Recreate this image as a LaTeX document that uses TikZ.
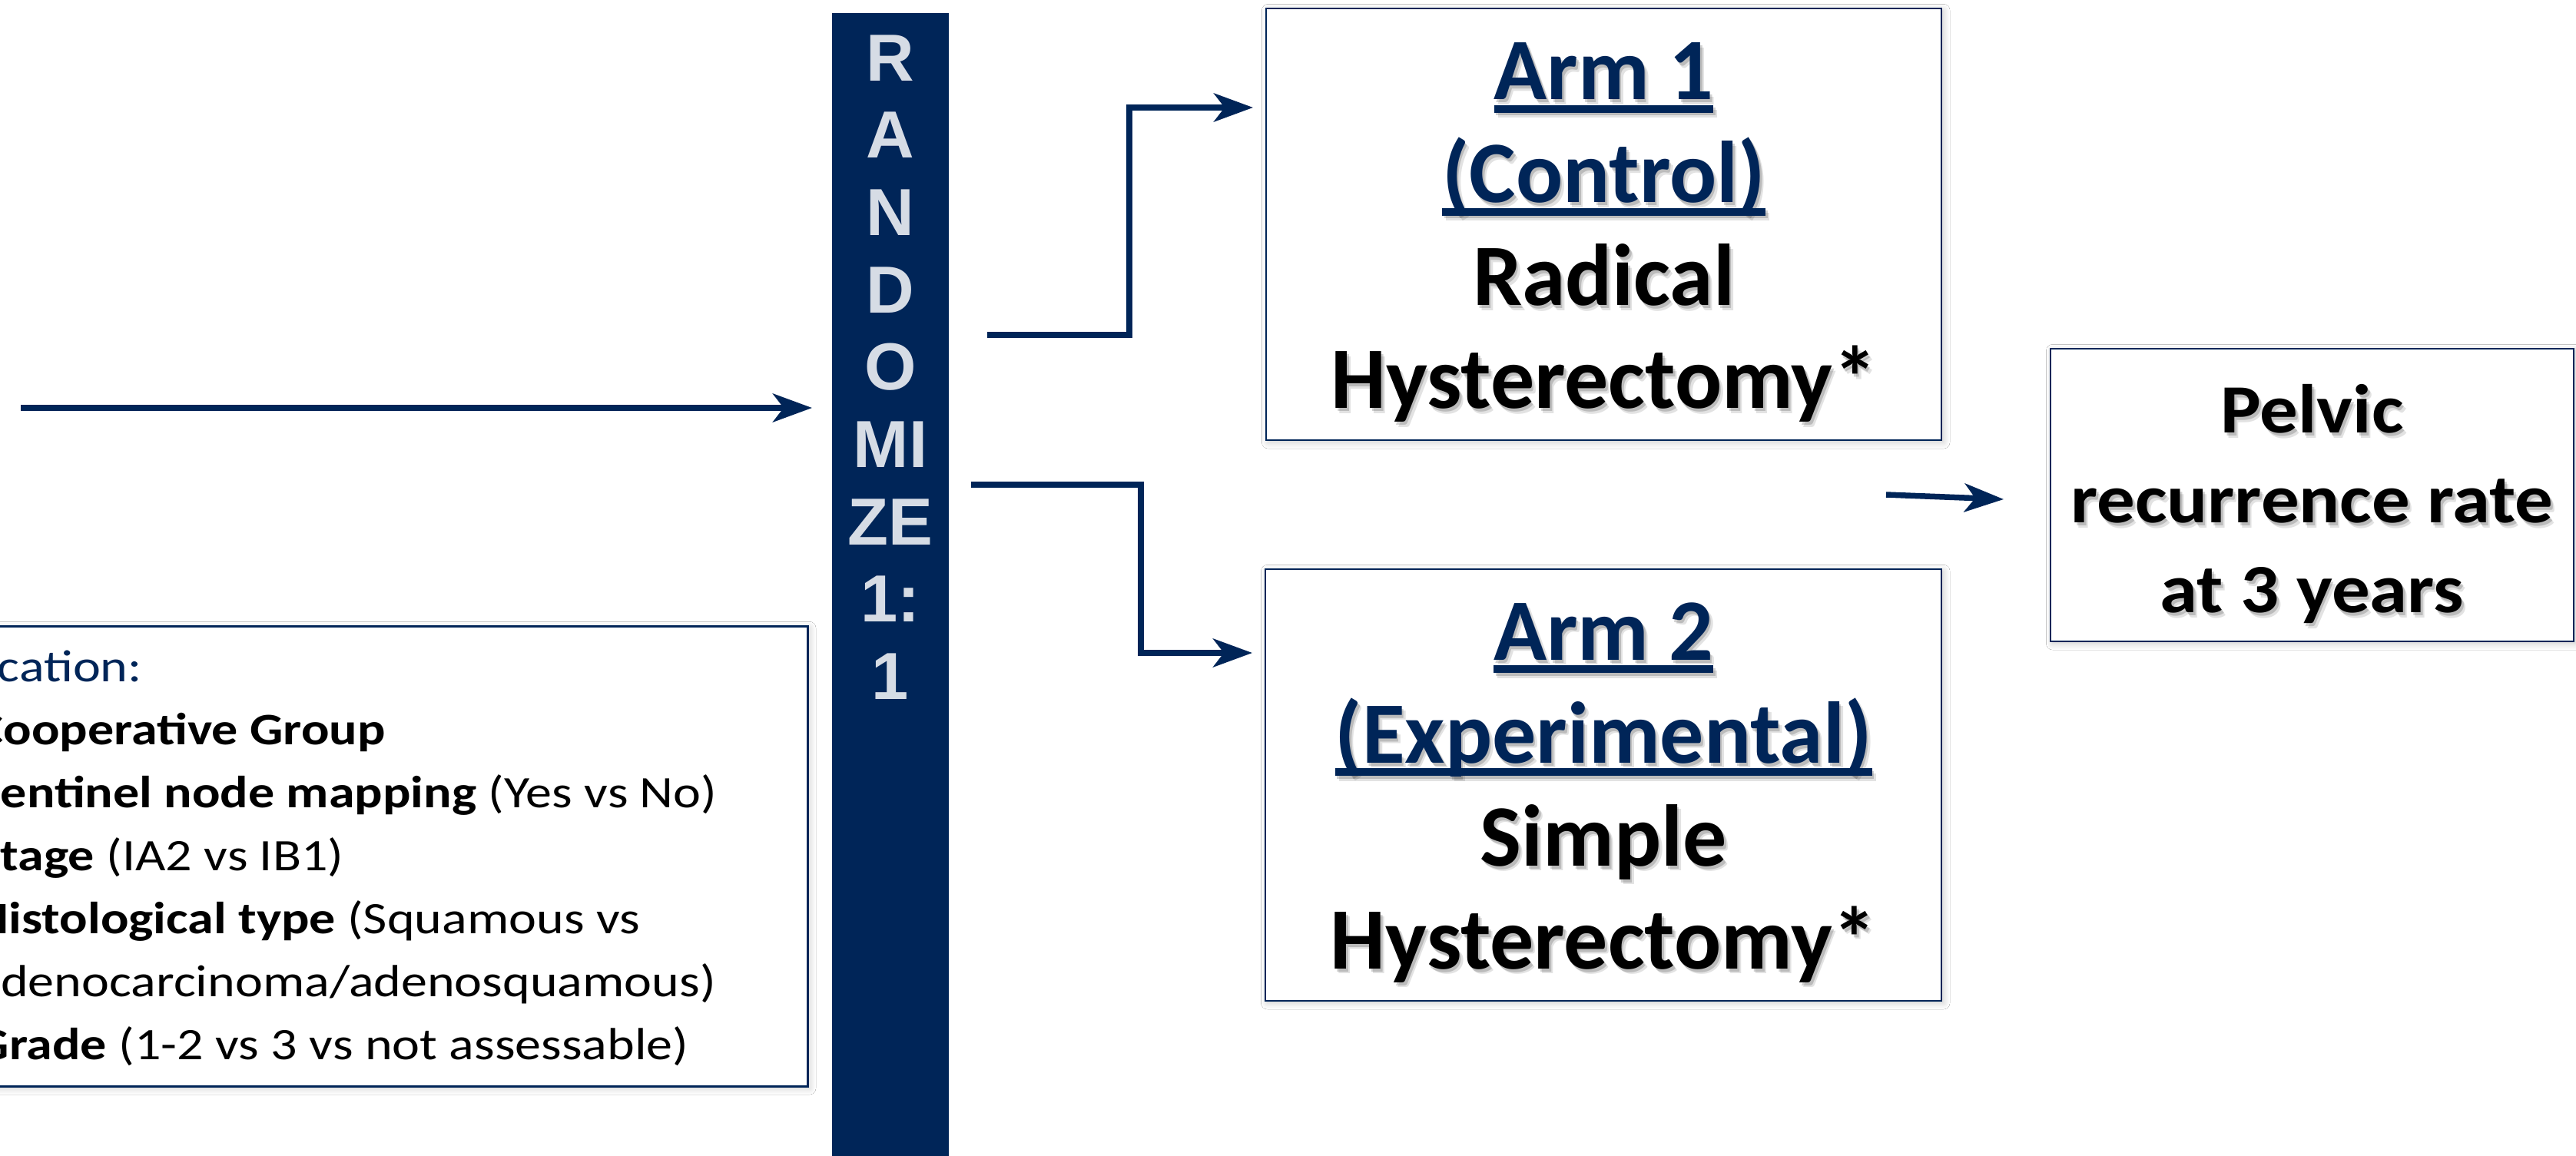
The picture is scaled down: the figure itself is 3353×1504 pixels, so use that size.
\documentclass[tikz,border=0pt]{standalone}
\usepackage{fontspec}
\setmainfont{Carlito}
\newfontfamily\randfont{Liberation Sans}
\newfontfamily\stratfont[FakeStretch=1.16]{Carlito}
\newfontfamily\pelfont[FakeStretch=1.1]{Carlito}
\usetikzlibrary{arrows.meta,shadows.blur}
\definecolor{navy}{RGB}{0,37,88}
\definecolor{randtext}{RGB}{214,220,229}
\newsavebox\ulsave
\newcommand\ulx[1]{\sbox\ulsave{#1}\rlap{\rule[-5.1pt]{\wd\ulsave}{3pt}}\usebox\ulsave}
\newcommand\hdcol{navy}
\newcommand\shnode[4]{%
  \node[#2, text=black!80, opacity=0.14, xshift=1.5pt, yshift=-1.9pt,
        execute at begin node={\renewcommand\hdcol{black!80}}] (#1t) at #3 {#4};
  \node[#2, text=black!80, opacity=0.22, xshift=0.8pt, yshift=-1.1pt,
        execute at begin node={\renewcommand\hdcol{black!80}}] (#1s) at #3 {#4};
  \node[#2] (#1) at #3 {#4};}
\begin{document}
\begin{tikzpicture}[x=0.3pt,y=-0.3pt,
  box/.style={draw=navy, line width=0.75pt, fill=white, inner sep=0pt,
    blur shadow={shadow xshift=0.8pt, shadow yshift=-0.8pt, shadow blur radius=2.5pt, shadow blur steps=8, shadow opacity=22}},
  bar/.style={fill=navy, draw=none, inner sep=0pt},
  arr/.style={draw=navy, line width=2.25pt, -{Stealth[length=15.3pt, width=11.1pt, inset=4.2pt]}},
  armtxt/.style={font=\fontsize{34.2pt}{40.2pt}\selectfont\bfseries, align=center, inner sep=0pt, anchor=north},
  peltxt/.style={font=\pelfont\fontsize{27pt}{35.1pt}\selectfont\bfseries, align=center, inner sep=0pt, anchor=north},
  randtxt/.style={font=\randfont\bfseries\fontsize{26pt}{30.2pt}\selectfont, text=randtext, align=center, inner sep=0pt, anchor=north},
  strattxt/.style={font=\stratfont\fontsize{17.6pt}{24.6pt}\selectfont, align=left, inner sep=0pt, anchor=north west}]
\clip (0,0) rectangle (3353,1504);
\fill[white] (0,0) rectangle (3353,1504);

% boxes
\node[bar, minimum width=45.6pt, minimum height=450.9pt] (bar) at (1159,768.5) {};
\node[box, minimum width=263.7pt, minimum height=168.6pt] (arm1) at (2087.5,292) {};
\node[box, minimum width=264pt, minimum height=168.6pt] (arm2) at (2087,1022) {};
\node[box, minimum width=204.3pt, minimum height=114.3pt] (pelvic) at (3009.5,644.5) {};
\node[box, line width=0.9pt, minimum width=405.3pt, minimum height=179.7pt] (strat) at (375.5,1114.5) {};

% texts
\node[randtxt] (randtext) at (1159,45) {R\\A\\N\\D\\O\\MI\\ZE\\1:\\1};

\shnode{arm1txt}{armtxt}{(2087.5,55)}{{\color{\hdcol}\ulx{Arm 1}}\\{\color{\hdcol}\ulx{(Control)}}\\Radical\\Hysterectomy*}
\shnode{arm2txt}{armtxt}{(2087,784)}{{\color{\hdcol}\ulx{Arm 2}}\\{\color{\hdcol}\ulx{(Experimental)}}\\Simple\\Hysterectomy*}
\shnode{peltxt}{peltxt}{(3009.5,500)}{Pelvic\\recurrence rate\\at 3 years}

\node[strattxt] (strattext) at (-186,846) {\textcolor{navy}{Stratification:}\\
\hspace*{46.2pt}\textbf{Cooperative Group}\\
\hspace*{46.2pt}\textbf{Sentinel node mapping} (Yes vs No)\\
\hspace*{46.2pt}\textbf{Stage} (IA2 vs IB1)\\
\hspace*{46.2pt}\textbf{Histological type} (Squamous vs\\
\hspace*{46.2pt}adenocarcinoma/adenosquamous)\\
\hspace*{46.2pt}\textbf{Grade} (1-2 vs 3 vs not assessable)};

% connectors
\coordinate (inS) at (27,531);
\coordinate (inE) at (1057,531);
\draw[arr] (inS) -- (inE);
\coordinate (a1S) at (1285,436);
\coordinate (a1E) at (1631,140);
\draw[arr] (a1S) -| (1470,140) -- (a1E);
\coordinate (a2S) at (1264,631);
\coordinate (a2E) at (1630,850);
\draw[arr] (a2S) -| (1485,850) -- (a2E);
\coordinate (pS) at (2455,644);
\coordinate (pE) at (2608,650);
\draw[arr] (pS) -- (pE);
\end{tikzpicture}
\end{document}
